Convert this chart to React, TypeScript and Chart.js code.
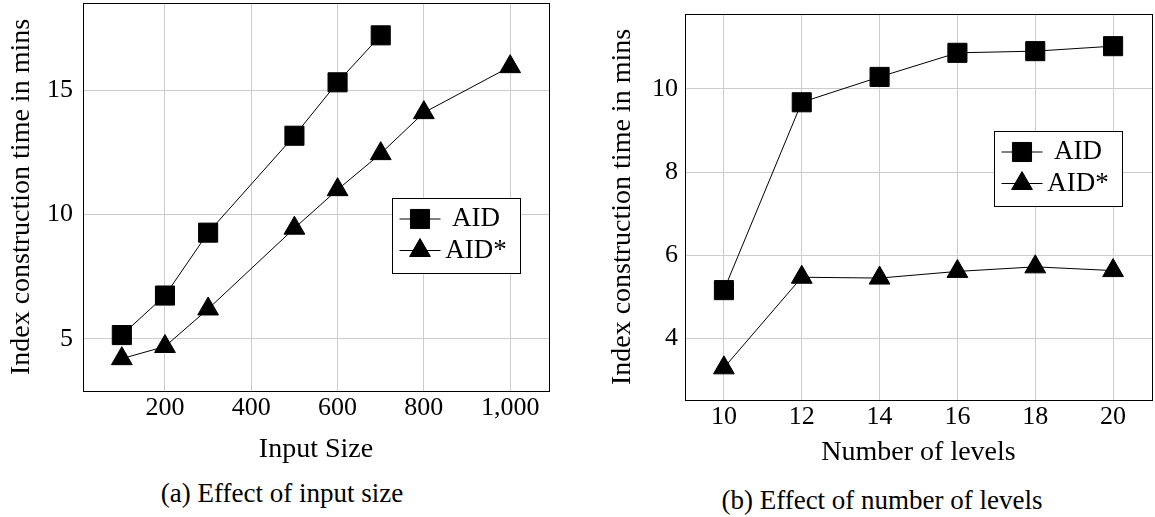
import React, { useEffect, useRef } from "react";
import { Chart, registerables } from "chart.js";
import { drawPoint } from "chart.js/helpers";

Chart.register(...registerables);

// ---------- data ----------
const seriesNames = ["AID", "AID*"];

// (a) Effect of input size
const sizeAid = [100, 200, 300, 500, 600, 700];
const timeAid = [5.15, 6.74, 9.27, 13.17, 15.32, 17.21];
const sizeAidStar = [100, 200, 300, 500, 600, 700, 800, 1000];
const timeAidStar = [4.2, 4.69, 6.2, 9.45, 11.0, 12.45, 14.1, 15.95];
const sizeTicks = [200, 400, 600, 800, 1000];
const sizeTimeTicks = [5, 10, 15];

// (b) Effect of number of levels
const levels = [10, 12, 14, 16, 18, 20];
const levelAid = [5.16, 9.68, 10.29, 10.87, 10.91, 11.03];
const levelAidStar = [3.29, 5.47, 5.45, 5.61, 5.72, 5.63];
const levelTicks = [10, 12, 14, 16, 18, 20];
const levelTimeTicks = [4, 6, 8, 10];

const yTitle = "Index construction time in mins";
const xTitleA = "Input Size";
const xTitleB = "Number of levels";
const captionA = "(a) Effect of input size";
const captionB = "(b) Effect of number of levels";

// ---------- styling ----------
const FONT = "'Liberation Serif', 'Times New Roman', serif";
const GRID = "#cccccc";

function enlarge(values: number[]): [number, number] {
  const mn = Math.min(...values);
  const mx = Math.max(...values);
  const r = mx - mn;
  return [mn - 0.1 * r, mx + 0.1 * r];
}

const framePlugin = {
  id: "frame",
  beforeDatasetsDraw(chart: any) {
    const { ctx, chartArea } = chart;
    ctx.save();
    ctx.strokeStyle = "#000";
    ctx.lineWidth = 1;
    const l = Math.round(chartArea.left) + 0.5;
    const t = Math.round(chartArea.top) + 0.5;
    const r = Math.round(chartArea.right) + 0.5;
    const b = Math.round(chartArea.bottom) + 0.5;
    ctx.strokeRect(l, t, r - l, b - t);
    ctx.restore();
  },
};

const boxLegendPlugin = {
  id: "boxLegend",
  afterDatasetsDraw(chart: any, _args: any, opts: any) {
    const { ctx, chartArea } = chart;
    const w = 128;
    const h = 75;
    const x0 = Math.round(chartArea.right - opts.right - w);
    const y0 = Math.round(chartArea.top + opts.top);
    ctx.save();
    ctx.fillStyle = "#fff";
    ctx.fillRect(x0, y0, w, h);
    ctx.strokeStyle = "#000";
    ctx.lineWidth = 1;
    ctx.strokeRect(x0 + 0.5, y0 + 0.5, w, h);
    chart.data.datasets.forEach((ds: any, i: number) => {
      const y = y0 + 21 + i * 31.5;
      ctx.beginPath();
      ctx.moveTo(x0 + 7.5, y);
      ctx.lineTo(x0 + 48.5, y);
      ctx.strokeStyle = "#000";
      ctx.lineWidth = 1;
      ctx.stroke();
      ctx.fillStyle = "#000";
      drawPoint(
        ctx,
        { pointStyle: ds.pointStyle, radius: ds.pointRadius, borderWidth: 1, rotation: 0 } as any,
        x0 + 28,
        y
      );
      ctx.fillStyle = "#000";
      ctx.font = `27px ${FONT}`;
      ctx.textAlign = "center";
      ctx.textBaseline = "middle";
      ctx.fillText(ds.label, x0 + 84, y);
    });
    ctx.restore();
  },
};

type PanelCfg = {
  width: number;
  height: number;
  xs: number[][];
  ys: number[][];
  xTicks: number[];
  yTicks: number[];
  xTitle: string;
  yAxisWidth: number;
  xAxisHeight: number;
  padTop: number;
  padRight: number;
  yTickPad: number;
  xTitlePadBottom: number;
  yTitlePadTop: number;
  legendRight: number;
  legendTop: number;
};

function makeDataset(name: string, xs: number[], ys: number[], style: string) {
  return {
    label: name,
    data: xs.map((x, i) => ({ x, y: ys[i] })),
    borderColor: "#000",
    backgroundColor: "#000",
    borderWidth: 1,
    pointStyle: style,
    pointRadius: style === "rect" ? 13.5 : 12,
    pointHoverRadius: style === "rect" ? 13.5 : 12,
    pointBackgroundColor: "#000",
    pointBorderColor: "#000",
    pointBorderWidth: 1,
    tension: 0,
    fill: false,
  };
}

function Panel({ cfg }: { cfg: PanelCfg }) {
  const ref = useRef<HTMLCanvasElement | null>(null);
  useEffect(() => {
    if (!ref.current) return;
    const [xmin, xmax] = enlarge(cfg.xs.flat());
    const [ymin, ymax] = enlarge(cfg.ys.flat());
    const tickFont = { family: FONT, size: 26 };
    const titleFont = { family: FONT, size: 28 };
    const chart = new Chart(ref.current, {
      type: "line",
      data: {
        datasets: [
          makeDataset(seriesNames[0], cfg.xs[0], cfg.ys[0], "rect"),
          makeDataset(seriesNames[1], cfg.xs[1], cfg.ys[1], "triangle"),
        ],
      },
      plugins: [framePlugin, boxLegendPlugin],
      options: {
        responsive: false,
        animation: false,
        devicePixelRatio: 1,
        layout: {
          autoPadding: false,
          padding: { top: cfg.padTop, right: cfg.padRight, left: 0, bottom: 0 },
        },
        plugins: {
          legend: { display: false },
          tooltip: { enabled: false },
          title: { display: false },
          boxLegend: { right: cfg.legendRight, top: cfg.legendTop },
        } as any,
        scales: {
          x: {
            type: "linear",
            min: xmin,
            max: xmax,
            afterBuildTicks: (s: any) => {
              s.ticks = cfg.xTicks.map((v) => ({ value: v }));
            },
            afterFit: (s: any) => {
              s.height = cfg.xAxisHeight;
              s.paddingLeft = 0;
              s.paddingRight = 0;
              s.paddingTop = 0;
              s.paddingBottom = 0;
            },
            grid: { color: GRID, drawTicks: false, lineWidth: 1 },
            border: { display: false },
            ticks: {
              font: tickFont,
              color: "#000",
              padding: 2,
              maxRotation: 0,
              autoSkip: false,
              callback: (v: any) => Number(v).toLocaleString("en-US"),
            },
            title: {
              display: true,
              text: cfg.xTitle,
              font: titleFont,
              color: "#000",
              padding: { top: 0, bottom: cfg.xTitlePadBottom },
            },
          },
          y: {
            type: "linear",
            min: ymin,
            max: ymax,
            afterBuildTicks: (s: any) => {
              s.ticks = cfg.yTicks.map((v) => ({ value: v }));
            },
            afterFit: (s: any) => {
              s.width = cfg.yAxisWidth;
              s.paddingLeft = 0;
              s.paddingRight = 0;
              s.paddingTop = 0;
              s.paddingBottom = 0;
            },
            grid: { color: GRID, drawTicks: false, lineWidth: 1 },
            border: { display: false },
            ticks: {
              font: tickFont,
              color: "#000",
              padding: cfg.yTickPad,
              autoSkip: false,
            },
            title: {
              display: true,
              text: yTitle,
              font: titleFont,
              color: "#000",
              padding: { top: cfg.yTitlePadTop, bottom: 0 },
            },
          },
        },
      } as any,
    });
    return () => chart.destroy();
  }, [cfg]);
  return <canvas ref={ref} width={cfg.width} height={cfg.height} style={{ display: "block" }} />;
}

const cfgA: PanelCfg = {
  width: 560,
  height: 470,
  xs: [sizeAid, sizeAidStar],
  ys: [timeAid, timeAidStar],
  xTicks: sizeTicks,
  yTicks: sizeTimeTicks,
  xTitle: xTitleA,
  yAxisWidth: 83,
  xAxisHeight: 79,
  padTop: 3,
  padRight: 11,
  yTickPad: 10,
  xTitlePadBottom: 4,
  yTitlePadTop: 5,
  legendRight: 29,
  legendTop: 195,
};

const cfgB: PanelCfg = {
  width: 555,
  height: 470,
  xs: [levels, levels],
  ys: [levelAid, levelAidStar],
  xTicks: levelTicks,
  yTicks: levelTimeTicks,
  xTitle: xTitleB,
  yAxisWidth: 85,
  xAxisHeight: 70,
  padTop: 14,
  padRight: 3,
  yTickPad: 7,
  xTitlePadBottom: 1,
  yTitlePadTop: 6,
  legendRight: 30,
  legendTop: 117,
};

const captionStyle = (cx: number, cy: number): React.CSSProperties => ({
  position: "absolute",
  left: cx - 250,
  width: 500,
  top: cy - 15,
  height: 30,
  lineHeight: "30px",
  textAlign: "center",
  fontFamily: FONT,
  fontSize: 27,
  color: "#000",
  whiteSpace: "nowrap",
});

export default function App() {
  return (
    <div
      style={{
        position: "absolute",
        left: 0,
        top: 0,
        width: 1155,
        height: 517,
        background: "#fff",
        overflow: "hidden",
      }}
    >
      <div style={{ position: "absolute", left: 0, top: 0 }}>
        <Panel cfg={cfgA} />
      </div>
      <div style={{ position: "absolute", left: 600, top: 0 }}>
        <Panel cfg={cfgB} />
      </div>
      <div style={captionStyle(282, 493)}>{captionA}</div>
      <div style={captionStyle(882, 500)}>{captionB}</div>
    </div>
  );
}
